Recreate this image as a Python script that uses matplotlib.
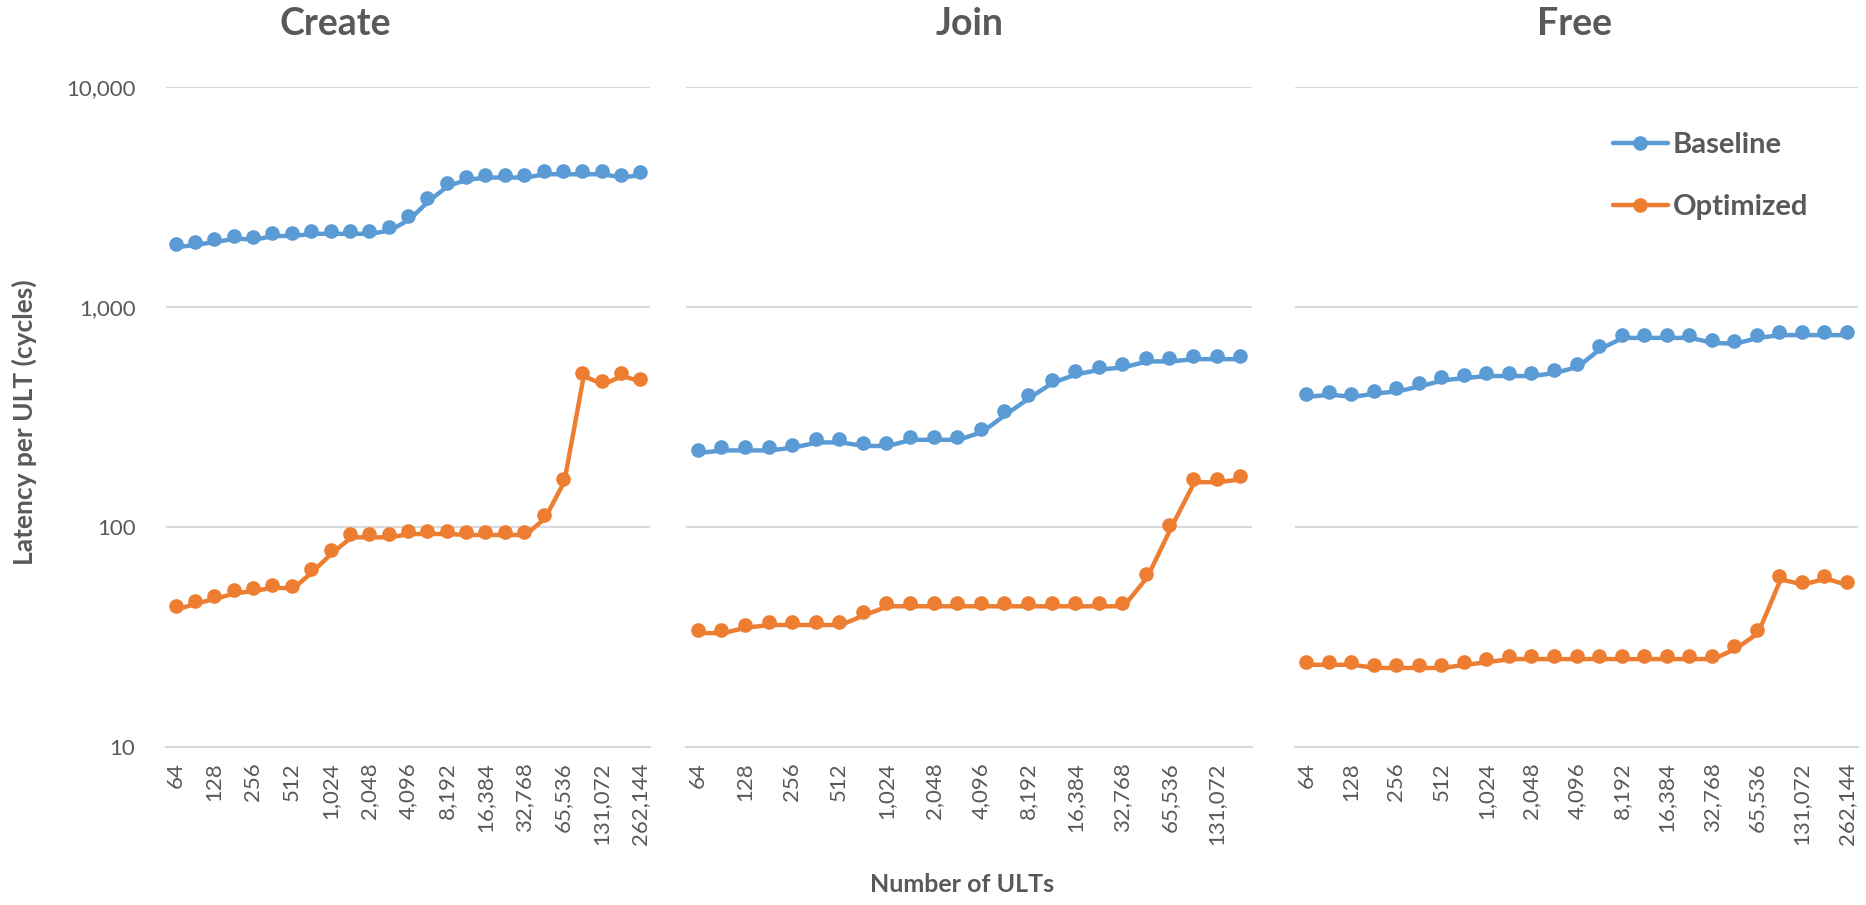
import matplotlib
matplotlib.use("Agg")
import matplotlib.pyplot as plt
from matplotlib.ticker import FixedLocator, FuncFormatter, NullLocator
from matplotlib.transforms import ScaledTranslation

# ---------------- data ----------------
ult_counts = [64, 91, 128, 181, 256, 362, 512, 724, 1024, 1448, 2048, 2896, 4096,
              5793, 8192, 11585, 16384, 23170, 32768, 46341, 65536, 92682, 131072,
              185364, 262144]

create_baseline = [1930, 1980, 2040, 2110, 2090, 2170, 2170, 2220, 2220, 2220, 2220, 2300,
                   2580, 3130, 3670, 3910, 4000, 4000, 4000, 4140, 4140, 4140, 4140, 4000, 4120]
create_optimized = [43.6, 46.3, 48.8, 51.5, 52.9, 54.7, 54.2, 64.6, 78.5, 92.6, 92.6, 92.6,
                    95.9, 95.9, 95.9, 94.9, 94.9, 94.9, 94.9, 113, 166, 501, 459, 501, 472]

join_baseline = [224, 230, 230, 230, 237, 250, 250, 241, 241, 257, 257, 257,
                 279, 335, 398, 468, 510, 536, 549, 584, 584, 598, 598, 598]
join_optimized = [34, 34, 36, 37, 37, 37, 37, 41, 45, 45, 45, 45,
                  45, 45, 45, 45, 45, 45, 45, 61, 102, 165, 165, 170]

free_baseline = [403, 412, 403, 417, 427, 450, 479, 491, 501, 501, 501, 518,
                 552, 666, 747, 747, 747, 747, 708, 703, 747, 769, 769, 769, 769]
free_optimized = [24.4, 24.4, 24.4, 23.6, 23.6, 23.6, 23.6, 24.4, 25.1, 25.9, 25.9, 25.9,
                  25.9, 25.9, 25.9, 25.9, 25.9, 25.9, 25.9, 28.8, 34.0, 59.6, 56.5, 60.1, 56.1]

panel_titles = ["Create", "Join", "Free"]
series_names = ["Baseline", "Optimized"]
y_ticks = [10, 100, 1000, 10000]

# ---------------- style ----------------
W, H = 1866, 905
BLUE = "#5B9BD5"
ORANGE = "#ED7D31"
TEXT = "#595959"
GRID = "#D9D9D9"
FONT = "Lato"

plt.rcParams["font.family"] = [FONT, "DejaVu Sans"]

fig = plt.figure(figsize=(W / 100, H / 100), dpi=100)

# pixel extents of each plot area (left, right)
extents = [(166, 650), (686, 1252), (1295, 1858)]
top_px, bot_px = 87, 747
panels = [
    (create_baseline, create_optimized),
    (join_baseline, join_optimized),
    (free_baseline, free_optimized),
]
title_x = [335, 970, 1575]
# the line sits a touch lower/right than its markers, as in the reference rendering
line_shift = ScaledTranslation(1.5 / 100, -3 / 100, fig.dpi_scale_trans)

axes = []
for i, ((l, r), (base, opt)) in enumerate(zip(extents, panels)):
    ax = fig.add_axes([l / W, 1 - bot_px / H, (r - l) / W, (bot_px - top_px) / H])
    axes.append(ax)
    n = len(base)
    xs = list(range(n))
    for vals, col, name in [(base, BLUE, series_names[0]), (opt, ORANGE, series_names[1])]:
        ax.plot(xs, vals, color=col, lw=3.2, solid_joinstyle="round",
                solid_capstyle="round", transform=ax.transData + line_shift, zorder=3)
        ax.plot(xs, vals, color=col, lw=0, marker="o", ms=9.5, zorder=4)
        # legend proxy
        ax.plot([], [], color=col, lw=3.2, marker="o", ms=9.5, label=name,
                solid_capstyle="round")
    ax.set_yscale("log")
    ax.set_ylim(10, 10000)
    ax.set_xlim(-0.5, n - 0.5)
    ax.yaxis.set_major_locator(FixedLocator(y_ticks))
    ax.yaxis.set_minor_locator(NullLocator())
    ax.yaxis.set_major_formatter(FuncFormatter(lambda v, p: f"{int(round(v)):,}"))
    ax.grid(axis="y", color=GRID, lw=1.5, zorder=0)
    ax.set_axisbelow(True)
    for s in ["top", "right", "left"]:
        ax.spines[s].set_visible(False)
    ax.spines["bottom"].set_color(GRID)
    ax.spines["bottom"].set_linewidth(1.5)
    tick_pos = [k for k in xs if k % 2 == 0]
    ax.set_xticks(tick_pos)
    ax.set_xticklabels([f"{ult_counts[k]:,}" for k in tick_pos], rotation=90,
                       fontsize=16, color=TEXT, va="top", ha="center")
    ax.tick_params(axis="x", length=0, pad=11)
    ax.tick_params(axis="y", length=0, pad=22, labelsize=16, labelcolor=TEXT)
    if i > 0:
        ax.tick_params(axis="y", labelleft=False)
    fig.text(title_x[i] / W, 1 - 24 / H, panel_titles[i], fontsize=27, fontweight="bold",
             color=TEXT, ha="center", va="center")

fig.text(24 / W, 1 - 422 / H, "Latency per ULT (cycles)", rotation=90, fontsize=19,
         fontweight="bold", color=TEXT, ha="center", va="center")
fig.text(962 / W, 1 - 884 / H, "Number of ULTs", fontsize=18, fontweight="bold",
         color=TEXT, ha="center", va="center")

leg = axes[2].legend(loc="upper left", bbox_to_anchor=(1613 / W, 1 - 132 / H),
                     bbox_transform=fig.transFigure, frameon=False, fontsize=21,
                     handlelength=1.88, handletextpad=0.17, labelspacing=1.25,
                     borderpad=0, borderaxespad=0)
for t in leg.get_texts():
    t.set_color(TEXT)
    t.set_fontweight("bold")

fig.savefig("out.png", dpi=100)
